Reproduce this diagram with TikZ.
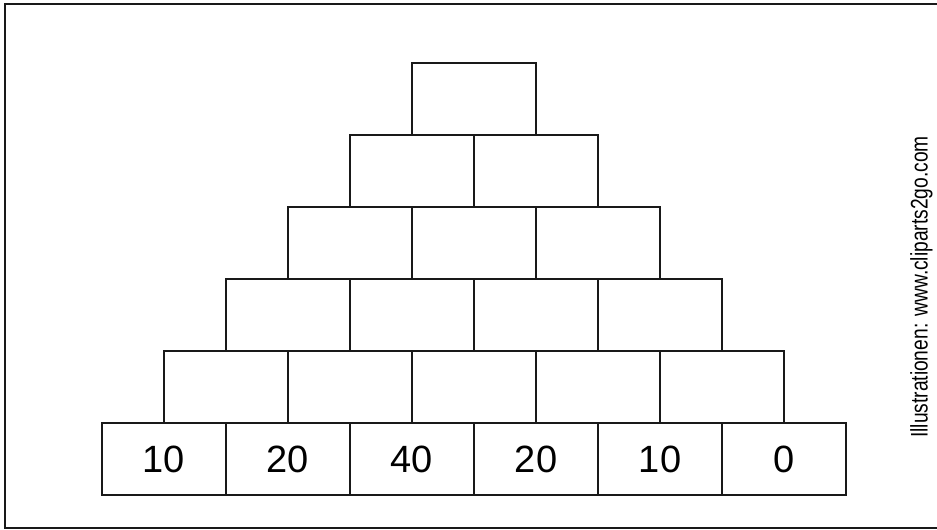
\documentclass[tikz,border=0pt]{standalone}
\usepackage{fontspec}
\setmainfont{Liberation Sans}
\begin{document}
\begin{tikzpicture}[x=1pt,y=-1pt,
  brick/.style={draw=black!90, line width=1.4pt, minimum width=124pt, minimum height=72pt, inner sep=0pt, outer sep=0pt},
  num/.style={font=\fontsize{38}{40}\selectfont, anchor=base},
  frame/.style={draw=black!90, line width=2pt}]
\useasboundingbox (0,0) rectangle (937,530);
\draw[frame] (945,4) -- (5,4) -- (5,528) -- (945,528);
% rows: row r (0 = bottom) has 6-r bricks
\foreach \r in {0,...,5}{
  \pgfmathtruncatemacro{\n}{5-\r}
  \foreach \i in {0,...,\n}{
    \node[brick] (b\r\i) at ({102+62*\r+124*\i+62},{459-72*\r}) {};
  }
}
\node[num] (t0) at (164,472) {10};
\node[num] (t1) at (288,472) {20};
\node[num] (t2) at (412,472) {40};
\node[num] (t3) at (536,472) {20};
\node[num] (t4) at (660,472) {10};
\node[num] (t5) at (784,472) {0};
\node[rotate=90, anchor=base, font=\fontsize{24}{26}\selectfont, inner sep=0pt] (credit) at (927.5,287) {\scalebox{0.8}[1]{Illustrationen: www.cliparts2go.com}};
\end{tikzpicture}
\end{document}
